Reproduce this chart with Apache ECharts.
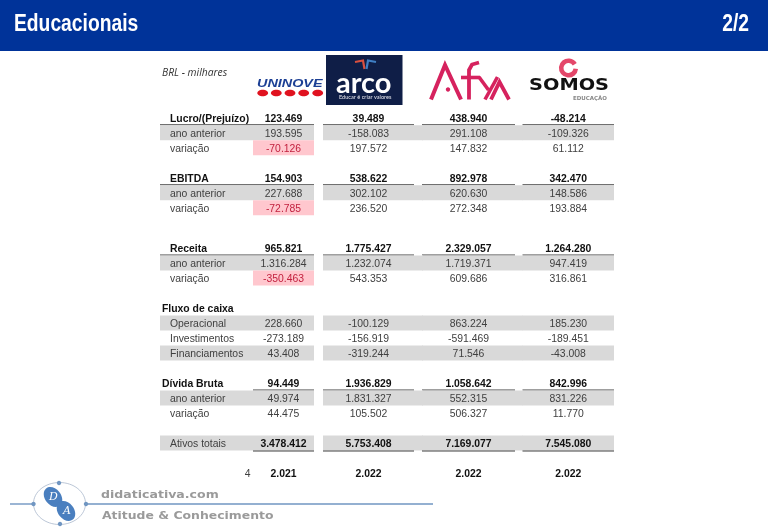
<!DOCTYPE html>
<html>
<head>
<meta charset="utf-8">
<title>Educacionais</title>
<style>html,body{margin:0;padding:0;background:#fff}#main{width:768px;height:532px}</style>
<script src="https://cdn.jsdelivr.net/npm/echarts@6/dist/echarts.min.js"></script>
</head>
<body>
<div id="main"></div>
<script>
var columns = ['', 'UNINOVE', 'arco', 'Afya', 'SOMOS'];

var upperRows = ['Lucro/(Prejuízo)', 'ano anterior', 'variação', ' ', 'EBITDA', 'ano anterior ', 'variação '];
var lowerRows = ['Receita', 'ano anterior', 'variação', ' ', 'Fluxo de caixa', 'Operacional', 'Investimentos', 'Financiamentos', '  ',
    'Dívida Bruta', 'ano anterior ', 'variação ', '   ', 'Ativos totais', '    ', '4'];

var lucro = [123469, 39489, 438940, -48214];
var lucroAnterior = [193595, -158083, 291108, -109326];
var lucroVariacao = [-70126, 197572, 147832, 61112];
var ebitda = [154903, 538622, 892978, 342470];
var ebitdaAnterior = [227688, 302102, 620630, 148586];
var ebitdaVariacao = [-72785, 236520, 272348, 193884];
var receita = [965821, 1775427, 2329057, 1264280];
var receitaAnterior = [1316284, 1232074, 1719371, 947419];
var receitaVariacao = [-350463, 543353, 609686, 316861];
var operacional = [228660, -100129, 863224, 185230];
var investimentos = [-273189, -156919, -591469, -189451];
var financiamentos = [43408, -319244, 71546, -43008];
var divida = [94449, 1936829, 1058642, 842996];
var dividaAnterior = [49974, 1831327, 552315, 831226];
var dividaVariacao = [44475, 105502, 506327, 11770];
var ativos = [3478412, 5753408, 7169077, 7545080];
var anos = [2021, 2022, 2022, 2022];

// row -> values and look: bold, band (gray), line (under the row), full (line also under the label)
var upperTable = [
    [lucro, 'bold line full'], [lucroAnterior, 'band'], [lucroVariacao, 'neg'], null,
    [ebitda, 'bold line full'], [ebitdaAnterior, 'band'], [ebitdaVariacao, 'neg']
];
var lowerTable = [
    [receita, 'bold line full'], [receitaAnterior, 'band'], [receitaVariacao, 'neg'], null,
    [null, 'title'], [operacional, 'band'], [investimentos, ''], [financiamentos, 'band'], null,
    [divida, 'bold line title'], [dividaAnterior, 'band'], [dividaVariacao, 'neg'], null,
    [ativos, 'bold band line'], null, [anos, 'bold page']
];

var FONT = '"Liberation Sans", Arial, sans-serif';

function fmt(n) {
    return String(n).replace(/\B(?=(\d{3})+(?!\d))/g, '.');
}

// edges of every column, relative to its category centre
var cellEdge = [[-8.5, 84.5], [-15.5, 45.5], [-45.5, 45.5], [-46.5, 46.5], [-46, 45.5]];
var bandEdge = [[-8.5, 84.5], [-15.5, 45.5], [-45.5, 54.5], [-46.5, 54.5], [-46, 45.5]];

function buildCells(rows, table) {
    var cells = [];
    rows.forEach(function (name, r) {
        var row = table[r];
        if (!row) return;
        cells.push({value: [0, r], text: name, kind: row[1]});
        if (row[0]) row[0].forEach(function (v, c) {
            cells.push({value: [c + 1, r], text: fmt(v), kind: row[1], neg: v < 0});
        });
    });
    return cells;
}

function makeRender(cells) {
    return function (params, api) {
        var cell = cells[params.dataIndex];
        var c = api.value(0);
        var kind = cell.kind;
        var pos = api.coord([c, api.value(1)]);
        var x = pos[0], y = pos[1];
        var has = function (k) { return kind.indexOf(k) >= 0; };
        var kids = [];
        var band = bandEdge[c], edge = cellEdge[c];

        if (has('band')) {
            kids.push({type: 'rect', shape: {x: x + band[0], y: y - 8, width: band[1] - band[0], height: 15}, style: {fill: '#d9d9d9'}});
        }
        var isNeg = has('neg') && c === 1 && cell.neg;
        if (isNeg) {
            kids.push({type: 'rect', shape: {x: x + edge[0], y: y - 8, width: edge[1] - edge[0], height: 15}, style: {fill: '#ffc7ce'}});
        }
        if (has('line') && (c > 0 || has('full'))) {
            kids.push({type: 'rect', shape: {x: x + edge[0], y: y + (has('band') ? 7 : 6), width: edge[1] - edge[0], height: 1}, style: {fill: '#404040'}});
        }

        var bold = has('bold') || has('title');
        var tx, align = 'center';
        if (c === 0) {
            align = 'left';
            tx = x + (has('title') ? -6.5 : 1.5);
            if (has('page')) { tx = x + 82; align = 'right'; bold = false; }
        } else {
            tx = x + (edge[0] + edge[1]) / 2;
        }
        if (c === 0 && kind === 'bold band line') bold = false;
        kids.push({
            type: 'text',
            style: {
                text: cell.text, x: tx, y: y + 0.8, align: align, verticalAlign: 'middle',
                font: (bold ? 'bold ' : '') + '10.4px ' + FONT,
                fill: isNeg ? '#c2213f' : (bold ? '#111' : '#404040')
            }
        });
        return {type: 'group', children: kids};
    };
}

var upperCells = buildCells(upperRows, upperTable);
var lowerCells = buildCells(lowerRows, lowerTable);

function label(text, x, y, font, fill, extra) {
    var el = {type: 'text', silent: true, style: {text: text, x: 0, y: 0, font: font, fill: fill, align: 'left', verticalAlign: 'middle'}, x: x, y: y};
    for (var k in extra) {
        if (k === 'align') el.style.align = extra[k];
        else el[k] = extra[k];
    }
    return el;
}
function line(points, color, width) {
    return {type: 'polyline', silent: true, shape: {points: points}, style: {stroke: color, lineWidth: width, fill: null, lineCap: 'butt'}};
}
function dot(x, y, rx, ry, color, rotation) {
    return {type: 'ellipse', silent: true, x: x, y: y, rotation: rotation || 0, shape: {cx: 0, cy: 0, rx: rx, ry: ry}, style: {fill: color}};
}

var PINK = '#d6225e';
var graphics = [
    // header
    {type: 'rect', silent: true, shape: {x: 0, y: 0, width: 768, height: 51}, style: {fill: '#003399'}},
    label('Educacionais', 14, 25, 'bold 23.5px ' + FONT, '#fff', {scaleX: 0.82}),
    label('2/2', 749, 25, 'bold 23.5px ' + FONT, '#fff', {align: 'right', scaleX: 0.82}),
    label('BRL - milhares', 162, 73.5, 'italic 10.3px "Open Sans", sans-serif', '#333'),

    // UNINOVE
    label('UNINOVE', 257, 83.5, 'italic bold 11.5px ' + FONT, '#1c3f94', {scaleX: 1.25}),
    dot(262.7, 93, 5.4, 3.3, '#e0121f'), dot(276.3, 93, 5.4, 3.3, '#e0121f'), dot(290, 93, 5.4, 3.3, '#e0121f'),
    dot(303.7, 93, 5.4, 3.3, '#e0121f'), dot(317.7, 93, 5.4, 3.3, '#e0121f'),

    // arco
    {type: 'rect', silent: true, shape: {x: 326, y: 55, width: 76.5, height: 50}, style: {fill: '#0f1e47'}},
    label('arco', 336, 84, 'bold 29px Lato, sans-serif', '#fff'),
    label('Educar é criar valores', 339, 97.5, '5.6px Lato, sans-serif', '#e8e8ee'),
    line([[355, 62], [363, 60.5], [364.5, 69]], '#d9503f', 2.2),
    line([[376, 62], [368, 60.5], [366.5, 69]], '#3f7fc4', 2.2),

    // Afya
    line([[431, 99.5], [445, 65], [461, 99.5]], PINK, 4),
    dot(448, 89.5, 2.2, 2.2, PINK),
    line([[469, 99.5], [469, 70], [472, 64.5], [479, 62.5]], PINK, 3.8),
    line([[461, 77.5], [480, 77.5]], PINK, 3.6),
    line([[479, 77], [488.5, 90]], PINK, 3.6),
    line([[497.5, 77], [485, 99.5]], PINK, 3.6),
    line([[491, 99.5], [499.5, 82], [509, 99.5]], PINK, 3.8),

    // SOMOS
    {type: 'arc', silent: true, shape: {cx: 568.5, cy: 68, r: 7.3, startAngle: 0.1, endAngle: 5.75}, style: {stroke: '#e4476a', lineWidth: 4.6, fill: null}},
    label('SOMOS', 529, 86.5, 'bold 15px "DejaVu Sans", sans-serif', '#111', {scaleX: 1.29}),
    label('EDUCAÇÃO', 573, 98.5, 'bold 5.5px "DejaVu Sans", sans-serif', '#888', {scaleX: 1.0}),

    // footer
    {type: 'ellipse', silent: true, shape: {cx: 59.5, cy: 503.5, rx: 26, ry: 21}, style: {stroke: '#a9b8cc', lineWidth: 0.8, fill: null}},
    line([[10, 504], [33, 504]], '#7096c2', 1.4),
    line([[86, 504], [433, 504]], '#7096c2', 1.4),
    dot(33.5, 504, 2.2, 2.2, '#7096c2'), dot(86, 504, 2.2, 2.2, '#7096c2'),
    dot(59, 483, 2.2, 2.2, '#7096c2'), dot(60, 524, 2.2, 2.2, '#7096c2'),
    dot(53, 497, 11, 8, '#4a7fbf', -0.9), dot(66, 511, 11, 8, '#4a7fbf', -0.9),
    label('D', 49, 497, 'italic 11px "DejaVu Serif", serif', '#fff'),
    label('A', 63, 511, 'italic 11px "DejaVu Serif", serif', '#fff'),
    label('didaticativa.com', 101, 495, 'bold 11.3px "DejaVu Sans", sans-serif', '#9a9a9a', {scaleX: 1.11}),
    label('Atitude & Conhecimento', 102, 516, 'bold 11.3px "DejaVu Sans", sans-serif', '#9a9a9a', {scaleX: 1.1})
];

var option = {
    animation: false,
    backgroundColor: '#fff',
    grid: [
        {left: 118.5, width: 500, top: 110.7, height: 105},
        {left: 118.5, width: 500, top: 240.9, height: 240}
    ],
    xAxis: [
        {type: 'category', gridIndex: 0, data: columns, show: false},
        {type: 'category', gridIndex: 1, data: columns, show: false}
    ],
    yAxis: [
        {type: 'category', gridIndex: 0, data: upperRows, inverse: true, show: false},
        {type: 'category', gridIndex: 1, data: lowerRows, inverse: true, show: false}
    ],
    series: [
        {type: 'custom', xAxisIndex: 0, yAxisIndex: 0, data: upperCells, renderItem: makeRender(upperCells), silent: true},
        {type: 'custom', xAxisIndex: 1, yAxisIndex: 1, data: lowerCells, renderItem: makeRender(lowerCells), silent: true}
    ],
    graphic: graphics
};

echarts.init(document.getElementById('main')).setOption(option);
</script>
</body>
</html>
